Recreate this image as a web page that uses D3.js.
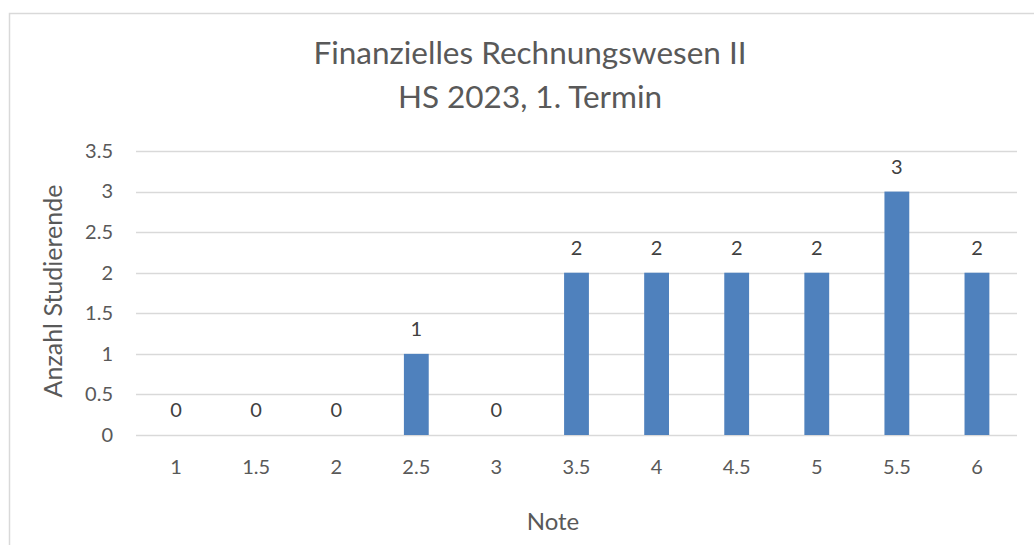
<!DOCTYPE html>
<html>
<head>
<meta charset="utf-8">
<script src="https://cdn.jsdelivr.net/npm/d3@7"></script>
<style>
  body { margin: 0; background: #fff; overflow: hidden; }
  svg { display: block; font-family: Lato, "Open Sans", sans-serif; }
</style>
</head>
<body>
<svg id="chart"></svg>
<script>
// Notes (grades) and number of students
const grades = ["1", "1.5", "2", "2.5", "3", "3.5", "4", "4.5", "5", "5.5", "6"];
const counts = [0, 0, 0, 1, 0, 2, 2, 2, 2, 3, 2];
const yTicks = [0, 0.5, 1, 1.5, 2, 2.5, 3, 3.5];
const titleLines = ["Finanzielles Rechnungswesen II", "HS 2023, 1. Termin"];

const width = 1034, height = 545;
const margin = { top: 151, right: 17, bottom: 110, left: 136 };
const innerWidth = width - margin.left - margin.right;
const innerHeight = height - margin.top - margin.bottom;

const svg = d3.select('#chart')
    .attr('width', width)
    .attr('height', height);

// chart frame (right and bottom edges lie outside the picture)
svg.append('path')
    .attr('d', `M9.5,${height} V13.5 H${width}`)
    .attr('fill', 'none')
    .attr('stroke', '#d9d9d9')
    .attr('stroke-width', 1.5);

const chart = svg.append('g')
    .attr('transform', `translate(${margin.left}, ${margin.top})`);

const x = d3.scaleBand()
    .domain(grades)
    .range([0, innerWidth])
    .paddingInner(0.69)
    .paddingOuter(0.345);

const y = d3.scaleLinear()
    .domain([0, 3.5])
    .range([innerHeight, 0]);

// gridlines
chart.append('g')
    .selectAll('line')
    .data(yTicks)
    .enter()
    .append('line')
    .attr('x1', 0)
    .attr('x2', innerWidth)
    .attr('y1', d => Math.round(y(d)) + 0.5)
    .attr('y2', d => Math.round(y(d)) + 0.5)
    .attr('stroke', '#d9d9d9')
    .attr('stroke-width', 1.5);

// y axis
const yAxis = d3.axisLeft(y).tickValues(yTicks).tickSize(0).tickPadding(23)
    .tickFormat(d => String(d));
chart.append('g')
    .call(yAxis)
    .call(g => g.select('.domain').remove())
    .call(g => g.selectAll('text')
        .attr('fill', '#595959')
        .style('font-size', '20px')
        .style('font-family', 'Lato, sans-serif'));

// x axis
const xAxis = d3.axisBottom(x).tickSize(0).tickPadding(25);
chart.append('g')
    .attr('transform', `translate(0, ${innerHeight})`)
    .call(xAxis)
    .call(g => g.select('.domain').remove())
    .call(g => g.selectAll('text')
        .attr('fill', '#595959')
        .style('font-size', '20px')
        .style('font-family', 'Lato, sans-serif'));

// bars
chart.selectAll('.bar')
    .data(grades)
    .enter()
    .append('rect')
    .attr('class', 'bar')
    .attr('x', (d, i) => x(d))
    .attr('y', (d, i) => y(counts[i]))
    .attr('width', x.bandwidth())
    .attr('height', (d, i) => innerHeight - y(counts[i]))
    .attr('fill', '#4f81bd');

// value labels
chart.selectAll('.value-label')
    .data(grades)
    .enter()
    .append('text')
    .attr('class', 'value-label')
    .attr('x', d => x(d) + x.bandwidth() / 2)
    .attr('y', (d, i) => y(counts[i]) - 18)
    .attr('text-anchor', 'middle')
    .attr('fill', '#404040')
    .style('font-size', '20px')
    .text((d, i) => counts[i]);

// title
svg.append('g')
    .selectAll('text')
    .data(titleLines)
    .enter()
    .append('text')
    .attr('x', 530)
    .attr('y', (d, i) => 64 + i * 44)
    .attr('text-anchor', 'middle')
    .attr('fill', '#595959')
    .style('font-size', '31.5px')
    .text(d => d);

// X-axis label
svg.append('text')
    .attr('x', 553)
    .attr('y', 530)
    .attr('text-anchor', 'middle')
    .attr('fill', '#595959')
    .style('font-size', '24px')
    .text('Note');

// Y-axis label
svg.append('text')
    .attr('transform', 'rotate(-90)')
    .attr('x', -291)
    .attr('y', 62)
    .attr('text-anchor', 'middle')
    .attr('fill', '#595959')
    .style('font-size', '25px')
    .text('Anzahl Studierende');
</script>
</body>
</html>
